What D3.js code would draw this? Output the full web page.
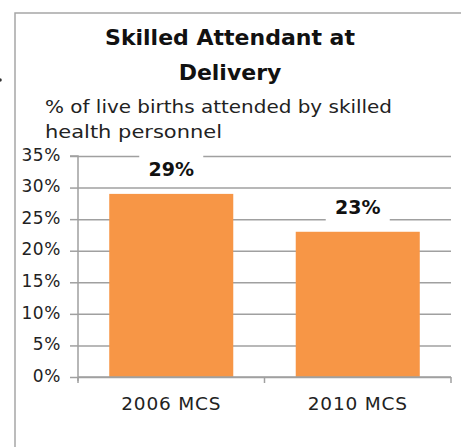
<!DOCTYPE html>
<html>
<head>
<meta charset="utf-8">
<script src="https://cdn.jsdelivr.net/npm/d3@7"></script>
<style>
  body { margin: 0; background: #fff; }
  text { font-family: "DejaVu Sans", sans-serif; }
</style>
</head>
<body>
<script>

const w = 461;
const h = 447;

// chart data
const categories = ["2006 MCS", "2010 MCS"];
const values = [0.29, 0.23];
const yTicks = [0, 0.05, 0.10, 0.15, 0.20, 0.25, 0.30, 0.35];
const titleLines = ["Skilled Attendant at", "Delivery"];
const subtitleLines = ["% of live births attended by skilled", "health personnel"];

const plotLeft = 78, plotRight = 451, plotTop = 156, plotBottom = 377;
const gray = "#a0a0a0";

let svg = d3.select("body")
    .append("svg")
    .attr("width", w)
    .attr("height", h)

// frame
svg.append("path")
    .attr("d", "M15," + h + "V13H" + w)
    .attr("fill", "none")
    .attr("stroke", "#a6a6a6")
    .attr("stroke-width", 1.5)

svg.append("circle").attr("cx", 0).attr("cy", 80).attr("r", 1.8).attr("fill", "#333")

// title
svg.selectAll(".title")
    .data(titleLines)
    .enter()
    .append("text")
    .attr("x", 230)
    .attr("y", (d, i) => 45 + i * 35)
    .attr("text-anchor", "middle")
    .style("font-size", "22px")
    .style("font-weight", "bold")
    .attr("fill", "#111")
    .text(d => d)

// subtitle, stretched to the width of the original lines
const subWidths = [347, 177];
svg.selectAll(".sub")
    .data(subtitleLines)
    .enter()
    .append("text")
    .attr("x", 45)
    .attr("y", (d, i) => 113 + i * 25)
    .attr("textLength", (d, i) => subWidths[i])
    .attr("lengthAdjust", "spacingAndGlyphs")
    .style("font-size", "18px")
    .attr("fill", "#222")
    .text(d => d)

var y = d3.scaleLinear().domain([0, 0.35]).range([plotBottom, plotTop]);
var x = d3.scaleBand().domain(categories).range([plotLeft, plotRight])
    .paddingInner(0.335).paddingOuter(0.1675);

// gridlines
svg.append("g")
    .attr("transform", "translate(" + plotLeft + ",0)")
    .call(d3.axisLeft(y).tickValues(yTicks).tickSize(-(plotRight - plotLeft)).tickFormat(""))
    .call(g => g.select(".domain").remove())
    .call(g => g.selectAll("line").attr("stroke", gray).attr("stroke-width", 1.5))

// bars
svg.append("g")
    .selectAll("rect")
    .data(values)
    .enter()
    .append("rect")
    .attr("x", (d, i) => x(categories[i]))
    .attr("width", x.bandwidth())
    .attr("y", d => y(d))
    .attr("height", d => y(0) - y(d))
    .attr("fill", "#f79646")

// y axis
var yAxis = svg.append("g")
    .attr("transform", "translate(" + plotLeft + ",0)")
    .call(d3.axisLeft(y).tickValues(yTicks).tickSize(8).tickPadding(9).tickFormat(d3.format(".0%")))
yAxis.select(".domain").attr("stroke", gray).attr("stroke-width", 1.5).attr("d", "M-8," + plotTop + "H0V" + (plotBottom + 4))
yAxis.selectAll("line").attr("stroke", gray).attr("stroke-width", 1.5)
yAxis.selectAll("text").style("font-size", "17px").style("letter-spacing", "0.6px").attr("fill", "#222").attr("dy", "0.25em")

// x axis
svg.append("line")
    .attr("x1", plotLeft).attr("x2", plotRight)
    .attr("y1", plotBottom).attr("y2", plotBottom)
    .attr("stroke", gray).attr("stroke-width", 1.5)

var bounds = categories.map(c => x(c) - x.step() * x.paddingInner() / 2).concat([plotRight]);
svg.selectAll(".xt")
    .data(bounds)
    .enter()
    .append("line")
    .attr("x1", d => d).attr("x2", d => d)
    .attr("y1", plotBottom).attr("y2", plotBottom + 6)
    .attr("stroke", gray).attr("stroke-width", 1.5)

svg.selectAll(".cat")
    .data(categories)
    .enter()
    .append("text")
    .attr("x", d => x(d) + x.bandwidth() / 2)
    .attr("y", 410)
    .attr("text-anchor", "middle")
    .style("font-size", "18.5px")
    .style("letter-spacing", "0.8px")
    .attr("fill", "#222")
    .text(d => d)

// value labels with white box
var lab = svg.append("g")
    .selectAll("g")
    .data(values)
    .enter()
    .append("g")
    .attr("transform", (d, i) => "translate(" + (x(categories[i]) + x.bandwidth() / 2) + "," + (y(d) - 25) + ")")

lab.append("rect")
    .attr("x", -32).attr("y", -17)
    .attr("width", 64).attr("height", 34)
    .attr("fill", "#fff")

lab.append("text")
    .attr("text-anchor", "middle")
    .attr("dy", "0.36em")
    .style("font-size", "19px")
    .style("font-weight", "bold")
    .attr("fill", "#111")
    .text(d => d3.format(".0%")(d))

</script>
</body>
</html>
